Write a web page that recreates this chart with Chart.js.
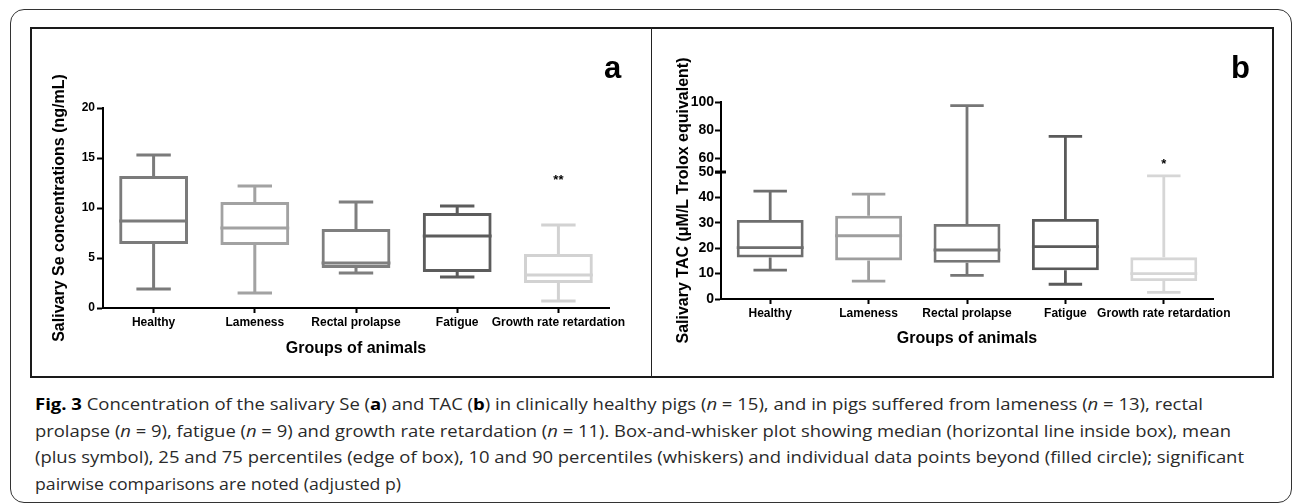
<!DOCTYPE html>
<html>
<head>
<meta charset="utf-8">
<script src="https://cdn.jsdelivr.net/npm/chart.js@4.4.1/dist/chart.umd.min.js"></script>
<style>
  html, body { margin: 0; padding: 0; background: #fff; width: 1292px; height: 504px; overflow: hidden; }
  #outer { position: absolute; left: 10px; top: 9px; width: 1282px; height: 494px; border: 1.5px solid #333; border-radius: 14px; box-sizing: border-box; }
  #frame { position: absolute; left: 30px; top: 27px; width: 1244px; height: 351px; border: 2px solid #1a1a1a; box-sizing: border-box; }
  #divider { position: absolute; left: 651px; top: 27px; width: 1px; height: 351px; background: #222; }
  .wrap { position: absolute; top: 28px; width: 620px; height: 348px; }
  .tag { position: absolute; top: 52px; font: bold 31px 'Liberation Sans', Arial, sans-serif; line-height: 1; color: #000; }
  #caption { position: absolute; left: 35px; top: 391px; font: 16px 'Open Sans', sans-serif; line-height: 26.7px; color: #2a2a2a; }
  #caption .ln { display: inline-block; white-space: nowrap; transform-origin: left center; }
  #caption b { color: #000; }
</style>
</head>
<body>
<div id="outer"></div>
<div id="frame"></div>
<div id="divider"></div>
<div class="wrap" style="left:31px"><canvas id="chartA" width="620" height="348"></canvas></div>
<div class="wrap" style="left:653px"><canvas id="chartB" width="620" height="348"></canvas></div>
<div class="tag" style="left:604px">a</div>
<div class="tag" style="left:1231px">b</div>
<div id="caption">
  <div><span class="ln" data-w="1168"><b>Fig. 3</b> Concentration of the salivary Se (<b>a</b>) and TAC (<b>b</b>) in clinically healthy pigs (<i>n</i> = 15), and in pigs suffered from lameness (<i>n</i> = 13), rectal</span></div>
  <div><span class="ln" data-w="1196">prolapse (<i>n</i> = 9), fatigue (<i>n</i> = 9) and growth rate retardation (<i>n</i> = 11). Box-and-whisker plot showing median (horizontal line inside box), mean</span></div>
  <div><span class="ln" data-w="1209">(plus symbol), 25 and 75 percentiles (edge of box), 10 and 90 percentiles (whiskers) and individual data points beyond (filled circle); significant</span></div>
  <div><span class="ln" data-w="366">pairwise comparisons are noted (adjusted p)</span></div>
</div>
<script>
// Categories
const groups = ['Healthy', 'Lameness', 'Rectal prolapse', 'Fatigue', 'Growth rate retardation'];

// Panel a: salivary Se (ng/mL)
const seLow    = [1.9, 1.5, 3.5, 3.1, 0.7];     // 10th percentile
const seQ1     = [6.4, 6.3, 4.0, 3.6, 2.5];
const seMedian = [8.7, 8.0, 4.5, 7.2, 3.3];
const seQ3     = [13.2, 10.6, 7.9, 9.5, 5.4];
const seHigh   = [15.3, 12.2, 10.6, 10.2, 8.3]; // 90th percentile
const seStars  = ['', '', '', '', '**'];
const seStarAt = [null, null, null, null, 12.8];
const seColors = ['#7b7b7b', '#a2a2a2', '#7f7f7f', '#5c5c5c', '#d2d2d2'];

// Panel b: salivary TAC (uM/L Trolox equivalent)
const tacLow    = [11.4, 7.0, 9.3, 5.8, 2.6];
const tacQ1     = [16.3, 15.2, 14.3, 11.3, 7.1];
const tacMedian = [20.2, 24.9, 19.3, 20.6, 10.0];
const tacQ3     = [31.1, 32.8, 29.5, 31.5, 16.4];
const tacHigh   = [42.5, 41.3, 97.4, 75.5, 48.5];
const tacStars  = ['', '', '', '', '*'];
const tacStarAt = [null, null, null, null, 55.7];
const tacColors = ['#6e6e6e', '#9e9e9e', '#767676', '#5a5a5a', '#d6d6d6'];
const tacTicks  = [0, 10, 20, 30, 40, 50, 60, 80, 100];

const fontFamily = "'Liberation Sans', Arial, sans-serif";

// y axis with a break: 0-50 and 50-100 drawn at different scales
class BrokenLinearScale extends Chart.LinearScale {
  getPixelForValue(value) {
    const b = this.options.breakAt, share = this.options.lowerShare;
    const dec = value <= b
      ? (value - this.min) / (b - this.min) * share
      : share + (value - b) / (this.max - b) * (1 - share);
    return this.getPixelForDecimal(dec);
  }
  getValueForPixel(pixel) {
    const b = this.options.breakAt, share = this.options.lowerShare;
    const dec = this.getDecimalForPixel(pixel);
    return dec <= share
      ? this.min + dec / share * (b - this.min)
      : b + (dec - share) / (1 - share) * (this.max - b);
  }
}
BrokenLinearScale.id = 'brokenLinear';
BrokenLinearScale.defaults = Chart.LinearScale.defaults;
Chart.register(BrokenLinearScale);

// whiskers, caps, medians and significance stars
function whiskerPlugin(stats) {
  return {
    id: 'whiskers',
    afterDatasetsDraw(chart) {
      const ctx = chart.ctx;
      const y = chart.scales.y;
      const meta = chart.getDatasetMeta(0);
      ctx.save();
      ctx.lineWidth = stats.lineWidth;
      ctx.lineCap = 'butt';
      meta.data.forEach((bar, i) => {
        const cx = bar.x, half = bar.width / 2, cap = half / 2;
        const pLow = y.getPixelForValue(stats.low[i]);
        const pQ1 = y.getPixelForValue(stats.q1[i]);
        const pMed = y.getPixelForValue(stats.median[i]);
        const pQ3 = y.getPixelForValue(stats.q3[i]);
        const pHigh = y.getPixelForValue(stats.high[i]);
        ctx.strokeStyle = stats.colors[i];
        ctx.beginPath();
        ctx.moveTo(cx, pQ3); ctx.lineTo(cx, pHigh);
        ctx.moveTo(cx - cap, pHigh); ctx.lineTo(cx + cap, pHigh);
        ctx.moveTo(cx, pQ1); ctx.lineTo(cx, pLow);
        ctx.moveTo(cx - cap, pLow); ctx.lineTo(cx + cap, pLow);
        ctx.moveTo(cx - half, pMed); ctx.lineTo(cx + half, pMed);
        ctx.stroke();
        if (stats.stars[i]) {
          ctx.fillStyle = '#000';
          ctx.font = 'bold 13px ' + fontFamily;
          ctx.textAlign = 'center';
          ctx.textBaseline = 'middle';
          ctx.fillText(stats.stars[i], cx, y.getPixelForValue(stats.starAt[i]));
        }
      });
      // break mark on the axis
      if (stats.breakAt) {
        const pb = y.getPixelForValue(stats.breakAt);
        ctx.strokeStyle = '#000';
        ctx.lineWidth = 3;
        ctx.beginPath();
        ctx.moveTo(y.right - 6, pb); ctx.lineTo(y.right + 5, pb);
        ctx.stroke();
      }
      ctx.restore();
    }
  };
}

function makeChart(id, cfg) {
  const data = groups.map((g, i) => [cfg.q1[i], cfg.q3[i]]);
  return new Chart(document.getElementById(id), {
    type: 'bar',
    data: {
      labels: groups,
      datasets: [{
        data: data,
        backgroundColor: 'rgba(0,0,0,0)',
        borderColor: cfg.colors,
        borderWidth: cfg.lineWidth,
        borderSkipped: false,
        barPercentage: 0.68,
        categoryPercentage: 1
      }]
    },
    options: {
      responsive: false,
      animation: false,
      devicePixelRatio: 1,
      layout: { padding: cfg.padding },
      plugins: { legend: { display: false }, tooltip: { enabled: false } },
      scales: {
        x: {
          offset: true,
          grid: { offset: false, drawOnChartArea: false, tickLength: 5, tickWidth: 2, tickColor: '#000' },
          border: { color: '#000', width: 2 },
          ticks: { color: '#000', font: { family: fontFamily, size: 12, weight: 'bold' }, maxRotation: 0, minRotation: 0, autoSkip: false, padding: 2 },
          title: { display: true, text: 'Groups of animals', color: '#000', font: { family: fontFamily, size: 16, weight: 'bold' }, padding: { top: 0, bottom: cfg.xTitlePad } },
          afterFit: s => { s.height = cfg.xHeight; }
        },
        y: Object.assign({
          grid: { drawOnChartArea: false, tickLength: 6, tickWidth: 2, tickColor: '#000' },
          border: { color: '#000', width: 2 },
          title: { display: true, text: cfg.yTitle, color: '#000', font: { family: fontFamily, size: 16, weight: 'bold' }, padding: { top: cfg.yTitlePad, bottom: 0 } },
          afterFit: s => { s.width = cfg.yWidth; }
        }, cfg.yScale)
      }
    },
    plugins: [whiskerPlugin(cfg)]
  });
}

makeChart('chartA', {
  low: seLow, q1: seQ1, median: seMedian, q3: seQ3, high: seHigh,
  stars: seStars, starAt: seStarAt, colors: seColors, lineWidth: 3,
  padding: { top: 80, right: 42, left: 0, bottom: 0 },
  xHeight: 68, xTitlePad: 17.4, yWidth: 72, yTitlePad: 19.4,
  yTitle: 'Salivary Se concentrations (ng/mL)',
  yScale: {
    min: 0, max: 20,
    ticks: { stepSize: 5, color: '#000', font: { family: fontFamily, size: 12, weight: 'bold' }, padding: 2 }
  }
});

makeChart('chartB', {
  low: tacLow, q1: tacQ1, median: tacMedian, q3: tacQ3, high: tacHigh,
  stars: tacStars, starAt: tacStarAt, colors: tacColors, lineWidth: 2.8, breakAt: 50,
  padding: { top: 74, right: 60, left: 0, bottom: 0 },
  xHeight: 77, xTitlePad: 27.4, yWidth: 68, yTitlePad: 21.4,
  yTitle: 'Salivary TAC (\u03BCM/L Trolox equivalent)',
  yScale: {
    type: 'brokenLinear', min: 0, max: 100, breakAt: 50, lowerShare: 127 / 197,
    afterBuildTicks: s => { s.ticks = tacTicks.map(v => ({ value: v })); },
    ticks: { color: '#000', font: { family: fontFamily, size: 14, weight: 'bold' }, padding: 1 }
  }
});

// fit each caption line to the width it has in the figure
document.querySelectorAll('#caption .ln').forEach(el => {
  const w = el.getBoundingClientRect().width;
  el.style.transform = 'scaleX(' + (el.dataset.w / w) + ')';
});
</script>
</body>
</html>
